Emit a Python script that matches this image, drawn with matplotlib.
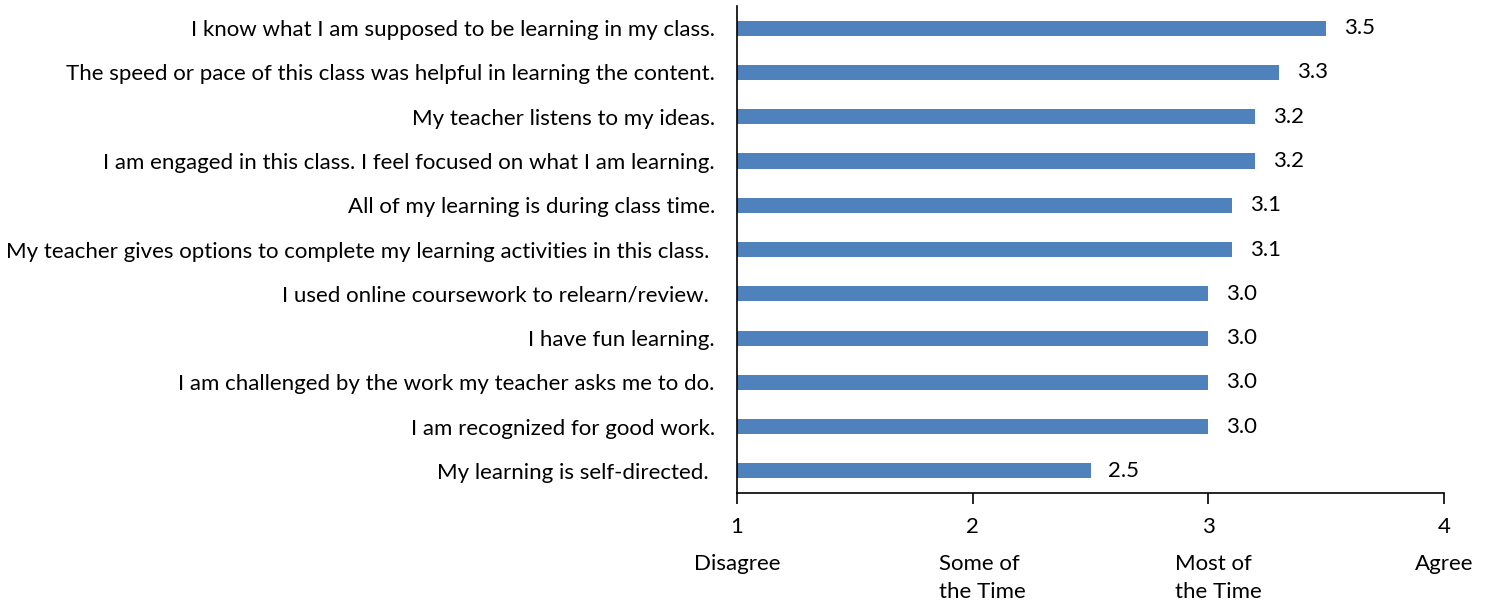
import matplotlib
matplotlib.use("Agg")
import matplotlib.pyplot as plt
import matplotlib.transforms as mtransforms

plt.rcParams['font.family'] = ['Lato', 'DejaVu Sans']

statements = [
    "I know what I am supposed to be learning in my class.",
    "The speed or pace of this class was helpful in learning the content.",
    "My teacher listens to my ideas.",
    "I am engaged in this class. I feel focused on what I am learning.",
    "All of my learning is during class time.",
    "My teacher gives options to complete my learning activities in this class. ",
    "I used online coursework to relearn/review. ",
    "I have fun learning.",
    "I am challenged by the work my teacher asks me to do.",
    "I am recognized for good work.",
    "My learning is self-directed. ",
]
scores = [3.5, 3.3, 3.2, 3.2, 3.1, 3.1, 3.0, 3.0, 3.0, 3.0, 2.5]

scale_ticks = [1, 2, 3, 4]
scale_names = ["Disagree", "Some of\nthe Time", "Most of\nthe Time", "Agree"]

bar_color = "#4F81BD"
fs = 16

fig = plt.figure(figsize=(14.91, 6.05), dpi=100)
ax = fig.add_axes([0.4943, 0.185, 0.4742, 0.805])

ypos = list(range(len(statements)))
ax.barh(ypos, [s - 1 for s in scores], left=1, height=0.34, color=bar_color)

for y, s in zip(ypos, scores):
    ax.text(s + 0.075, y, f"{s:.1f}", va="center", ha="left", fontsize=fs)

ax.set_xlim(1, 4)
ax.set_ylim(len(statements) - 0.5, -0.5)
ax.set_yticks(ypos)
ax.set_yticklabels(statements, fontsize=fs)
ax.tick_params(axis="y", length=0, pad=16)
ax.set_xticks(scale_ticks)
ax.set_xticklabels([str(t) for t in scale_ticks], fontsize=fs)
ax.tick_params(axis="x", direction="out", length=8, width=1.2, pad=9)

for side in ["top", "right"]:
    ax.spines[side].set_visible(False)
ax.spines["left"].set_linewidth(1.2)
ax.spines["bottom"].set_linewidth(1.2)

trans = mtransforms.blended_transform_factory(ax.transData, fig.transFigure)
for t, name in zip(scale_ticks, scale_names):
    tr = trans
    if "\n" in name:
        tr = trans + mtransforms.ScaledTranslation(10 / 100, 0, fig.dpi_scale_trans)
    ax.text(t, 1 - 554 / 605, name, transform=tr, ha="center", va="top",
            multialignment="left", fontsize=fs, linespacing=1.5)

fig.savefig("out.png", dpi=100)
